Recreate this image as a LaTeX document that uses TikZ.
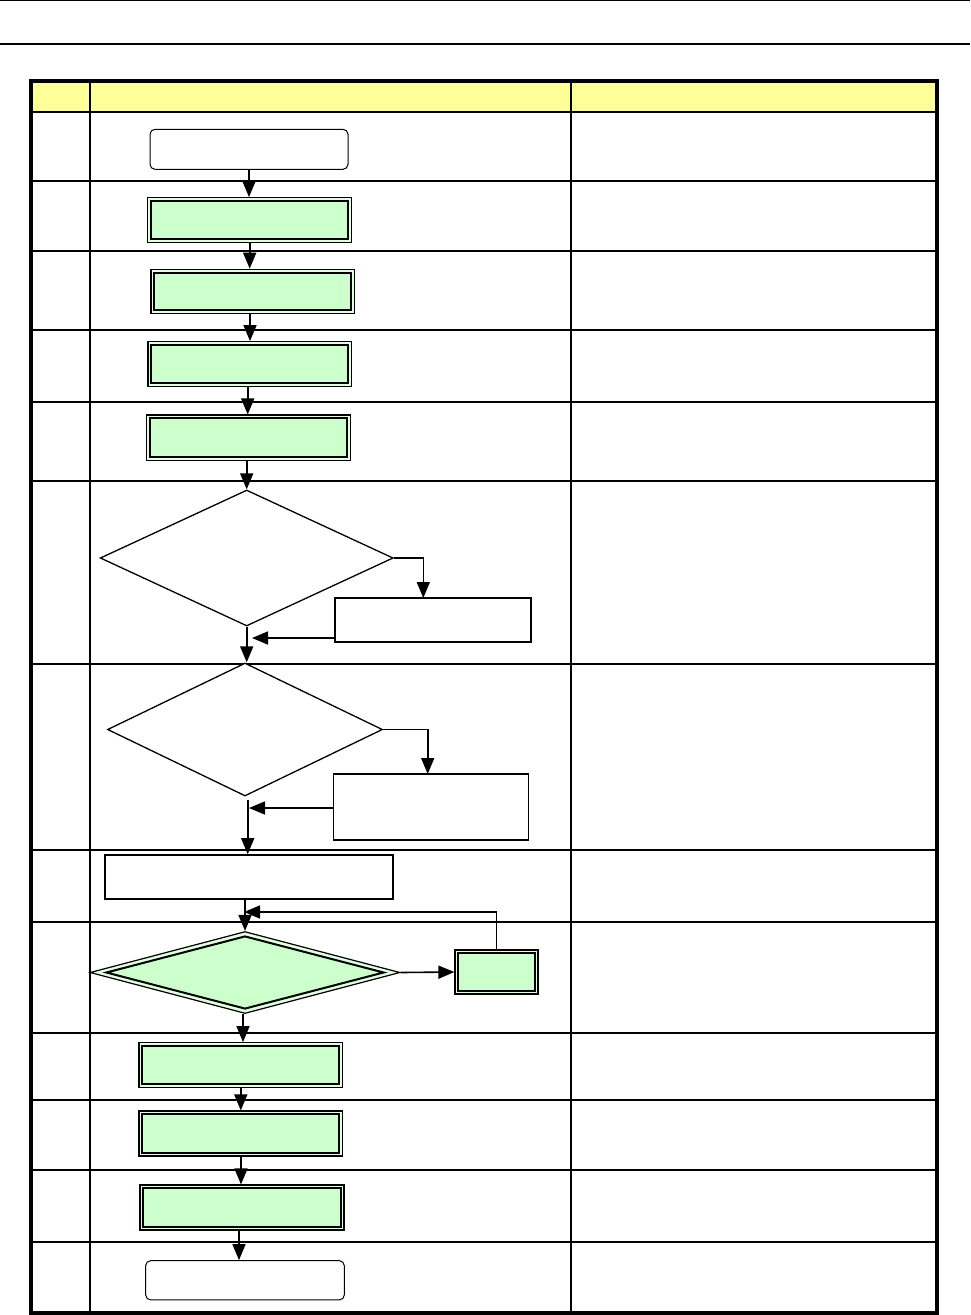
\documentclass[tikz,border=0pt]{standalone}
\usetikzlibrary{arrows.meta,shapes.geometric,calc}
\definecolor{hdr}{HTML}{FFFF99}
\definecolor{gfill}{HTML}{CCFFCC}
\definecolor{gring}{HTML}{E2FFE2}
\tikzset{
  thinrule/.style={line width=1.3pt},
  thickrule/.style={line width=2.6pt},
  arr/.style={line width=1.6pt,-{Triangle[length=16pt,width=13pt]}},
  plainline/.style={line width=1.6pt},
  startend/.style={draw,line width=1pt,rounded corners=5pt,fill=white,inner sep=0pt},
  gbox/.style={draw,line width=1.2pt,fill=gring,inner sep=0pt},
  inbox/.style={line width=2pt,fill=gfill},
  pbox/.style={draw,line width=1.6pt,fill=white,inner sep=0pt},
  dia/.style={diamond,draw,line width=1.3pt,fill=white,inner sep=0pt},
}
\begin{document}
\begin{tikzpicture}[x=1pt,y=-1pt]
\useasboundingbox (0,0) rectangle (970,1315);
% page rules
\draw[line width=1pt] (0,0.5) -- (970,0.5);
\draw[line width=2pt] (0,44) -- (970,44);
% table
\fill[hdr] (31,81) rectangle (937,112);
\foreach \y in {251,330,402,664,850,1033,1170} \draw[thinrule] (31,\y) -- (937,\y);
\foreach \y in {112,181,481,922,1100,1242} \draw[thickrule] (31,\y) -- (937,\y);
\draw[thinrule] (90,81) -- (90,1313);
\draw[thinrule] (571,81) -- (571,1313);
\draw[line width=3.4pt] (31,81) rectangle (937,1313);

% nodes
\node[startend,minimum width=198,minimum height=40] (start) at (249,149.3) {};
\node[gbox,minimum width=204,minimum height=44.6] (b1) at (249.7,220) {};
\node[gbox,minimum width=203.3,minimum height=44.4] (b2) at (252.7,291.5) {};
\node[gbox,minimum width=203.7,minimum height=45] (b3) at (249.8,364.2) {};
\node[gbox,minimum width=204,minimum height=45.3] (b4) at (248.7,437.7) {};
\node[dia,minimum width=293,minimum height=136] (d1) at (246.7,558) {};
\node[pbox,minimum width=196,minimum height=44] (bA) at (433,620) {};
\node[dia,minimum width=275,minimum height=133] (d2) at (245,729.5) {};
\node[pbox,minimum width=195,minimum height=66] (bB) at (430.8,807) {};
\node[pbox,minimum width=288,minimum height=44] (bC) at (249,877) {};
\node[dia,fill=gring,line width=1.2pt,minimum width=310,minimum height=82] (d3) at (245,972.5) {};
\node[dia,fill=gfill,line width=2pt,minimum width=278,minimum height=73] (d3in) at (245,972.5) {};
\node[gbox,minimum width=83,minimum height=44] (bD) at (496.5,972) {};
\node[gbox,minimum width=203.7,minimum height=44.6] (bE) at (240.8,1065) {};
\node[gbox,minimum width=203.7,minimum height=45] (bF) at (240.8,1133.5) {};
\node[gbox,minimum width=204,minimum height=45] (bG) at (242,1207.5) {};
\node[startend,minimum width=198.6,minimum height=39.3] (end) at (245,1280.3) {};

\foreach \n in {b1,b2,b3,b4,bD,bE,bF,bG}
  \draw[inbox] ($(\n.north west)+(4,4)$) rectangle ($(\n.south east)+(-4,-4)$);

% helper coordinates
\coordinate (aTop) at (423.3,598);
\coordinate (aOut) at (335,638);
\coordinate (aIn) at (252,638);
\coordinate (bTop) at (427.7,774);
\coordinate (bIn) at (249,808);
\coordinate (loopEnd) at (244,912);

% connectors
\draw[arr] (start.south) -- (start.south |- b1.north);
\draw[arr] (b1.south) -- (b1.south |- b2.north);
\draw[arr] (b2.south -| 250,0) -- (250,0 |- b3.north);
\draw[arr] (b3.south -| 247.7,0) -- (247.7,0 |- b4.north);
\draw[arr] (d1.north |- b4.south) -- (d1.north);
\draw[arr] (d1.east) -| (aTop);
\draw[arr] (aOut) -- (aIn);
\draw[arr] (d1.south) -- (d1.south |- d2.north);
\draw[arr] (d2.east) -| (bTop);
\draw[arr] (bB.west |- bIn) -- (bIn);
\draw[arr] (247.7,800) -- (247.7,0 |- bC.north);
\draw[arr] (bC.south -| d3.north) -- (d3.north);
\draw[arr] (d3.east) -- (bD.west);
\draw[arr] (bD.north) |- (loopEnd);
\draw[arr] (d3.south -| 243,0) -- (243,0 |- bE.north);
\draw[arr] (bE.south) -- (bE.south |- bF.north);
\draw[arr] (bF.south -| 241,0) -- (241,0 |- bG.north);
\draw[arr] (bG.south -| 239,0) -- (239,0 |- end.north);
\end{tikzpicture}
\end{document}
